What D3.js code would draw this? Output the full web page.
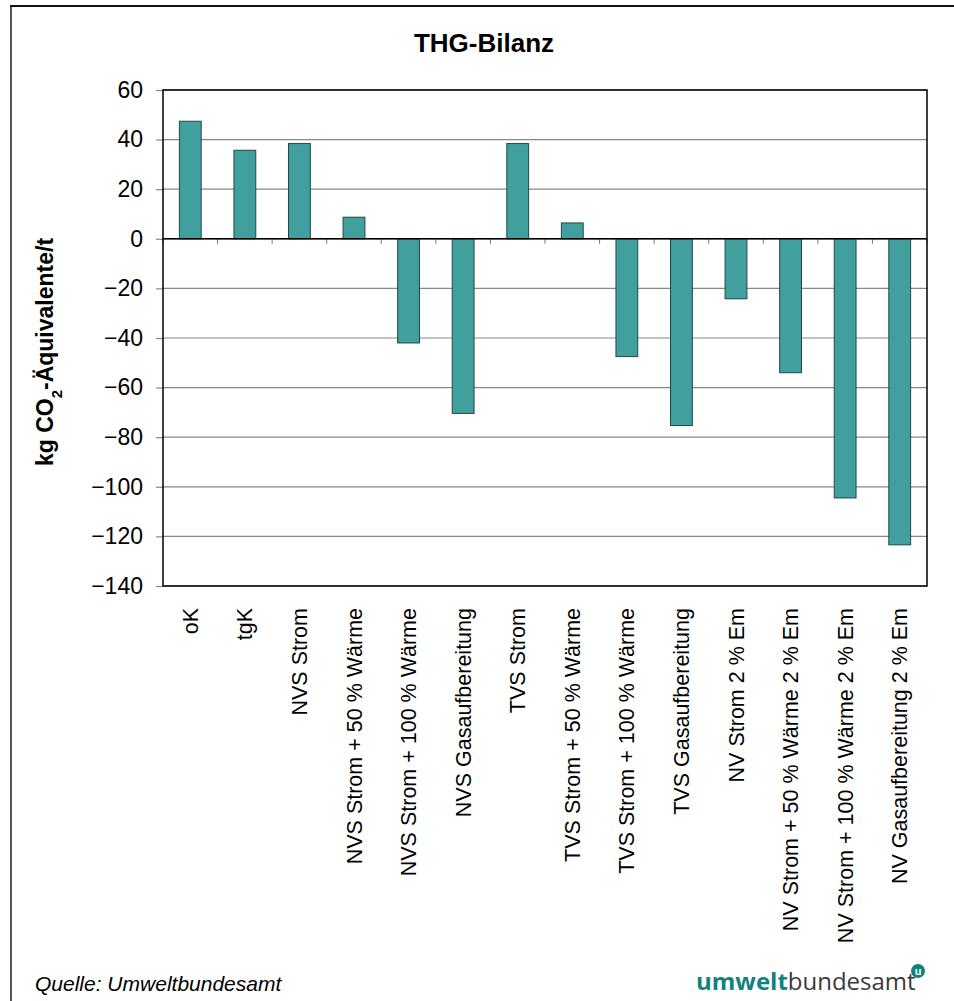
<!DOCTYPE html>
<html>
<head>
<meta charset="utf-8">
<script src="https://cdn.jsdelivr.net/npm/d3@7"></script>
<style>
  body { margin: 0; background: #fff; }
  text { font-family: "Liberation Sans", Arial, sans-serif; }
</style>
</head>
<body>
<svg id="chart" width="954" height="1001"></svg>
<script>
var categories = ["oK", "tgK", "NVS Strom", "NVS Strom + 50 % Wärme", "NVS Strom + 100 % Wärme",
  "NVS Gasaufbereitung", "TVS Strom", "TVS Strom + 50 % Wärme", "TVS Strom + 100 % Wärme",
  "TVS Gasaufbereitung", "NV Strom 2 % Em", "NV Strom + 50 % Wärme 2 % Em",
  "NV Strom + 100 % Wärme 2 % Em", "NV Gasaufbereitung 2 % Em"];
var values = [47.4, 35.7, 38.4, 8.7, -42, -70.4, 38.4, 6.4, -47.5, -75.3, -24.2, -54, -104.5, -123.4];
var yTicks = [60, 40, 20, 0, -20, -40, -60, -80, -100, -120, -140];

var svg = d3.select("#chart"),
  margin = {top: 90, right: 27, bottom: 415, left: 163},
  width = +svg.attr("width") - margin.left - margin.right,
  height = +svg.attr("height") - margin.top - margin.bottom;

// frame
svg.append("line").attr("x1", 11).attr("x2", 11).attr("y1", 6).attr("y2", 1001)
  .attr("stroke", "#555").attr("stroke-width", 2);
svg.append("line").attr("x1", 10).attr("x2", 954).attr("y1", 6).attr("y2", 6)
  .attr("stroke", "#111").attr("stroke-width", 2);

svg.append("text")
  .attr("x", 484).attr("y", 52)
  .attr("text-anchor", "middle")
  .style("font-weight", "bold").style("font-size", "26px")
  .text("THG-Bilanz");

var x = d3.scaleBand().range([0, width]).domain(categories).paddingInner(0.6).paddingOuter(0.3),
  y = d3.scaleLinear().range([0, height]).domain([60, -140]);

var g = svg.append("g")
  .attr("transform", "translate(" + margin.left + "," + margin.top + ")");

// grid
g.selectAll(".grid")
  .data(yTicks)
  .enter().append("line")
    .attr("class", "grid")
    .attr("x1", 0).attr("x2", width)
    .attr("y1", function(d) { return y(d); })
    .attr("y2", function(d) { return y(d); })
    .attr("stroke", "#888").attr("stroke-width", 1.2);

var yAxis = g.append("g")
  .call(d3.axisLeft(y).tickValues(yTicks).tickSize(7).tickPadding(13));
yAxis.select(".domain").remove();
yAxis.selectAll(".tick line").attr("stroke", "#888").attr("stroke-width", 1.2);
yAxis.selectAll(".tick text")
  .style("font-size", "23px").attr("fill", "#000")
  .style("font-family", "'Liberation Sans', Arial, sans-serif");

// x tick marks on zero line
g.selectAll(".xtick")
  .data(d3.range(categories.length + 1))
  .enter().append("line")
    .attr("class", "xtick")
    .attr("x1", function(i) { return i * width / categories.length; })
    .attr("x2", function(i) { return i * width / categories.length; })
    .attr("y1", y(0)).attr("y2", y(0) + 5)
    .attr("stroke", "#777").attr("stroke-width", 1);

g.selectAll(".bar")
  .data(values)
  .enter().append("rect")
    .attr("class", "bar")
    .attr("x", function(d, i) { return x(categories[i]); })
    .attr("y", function(d) { return y(Math.max(0, d)); })
    .attr("width", x.bandwidth())
    .attr("height", function(d) { return Math.abs(y(d) - y(0)); })
    .attr("fill", "#41a09e")
    .attr("stroke", "#1d4a49").attr("stroke-width", 1);

g.append("line")
  .attr("x1", 0).attr("x2", width).attr("y1", y(0)).attr("y2", y(0))
  .attr("stroke", "#000").attr("stroke-width", 1.5);

g.append("rect")
  .attr("width", width).attr("height", height)
  .attr("fill", "none").attr("stroke", "#000").attr("stroke-width", 1.5);

g.selectAll(".xlabel")
  .data(categories)
  .enter().append("text")
    .attr("class", "xlabel")
    .attr("transform", function(d) {
      return "translate(" + (x(d) + x.bandwidth() / 2) + "," + (height + 22) + ") rotate(-90)";
    })
    .attr("text-anchor", "end")
    .attr("dy", "0.35em")
    .style("font-size", "21.5px")
    .text(function(d) { return d; });

var yt = svg.append("text")
  .attr("transform", "translate(53,352) rotate(-90)")
  .attr("text-anchor", "middle")
  .style("font-weight", "bold").style("font-size", "23px");
yt.append("tspan").text("kg CO");
yt.append("tspan").attr("baseline-shift", "sub").style("font-size", "15px").text("2");
yt.append("tspan").text("-Äquivalente/t");

svg.append("text")
  .attr("x", 35).attr("y", 991)
  .style("font-style", "italic").style("font-size", "21px")
  .text("Quelle: Umweltbundesamt");

var logo = svg.append("text")
  .attr("x", 696).attr("y", 990)
  .style("font-size", "24px")
  .style("font-family", "'Open Sans', 'DejaVu Sans', sans-serif");
logo.append("tspan").attr("fill", "#13827c").style("font-weight", "bold").text("umwelt");
logo.append("tspan").attr("fill", "#3a3a3a").text("bundesamt");

svg.append("circle").attr("cx", 918).attr("cy", 971).attr("r", 7).attr("fill", "#13827c");
svg.append("text").attr("x", 918).attr("y", 975)
  .attr("text-anchor", "middle").attr("fill", "#fff")
  .style("font-size", "11px").style("font-weight", "bold").text("u");
</script>
</body>
</html>
